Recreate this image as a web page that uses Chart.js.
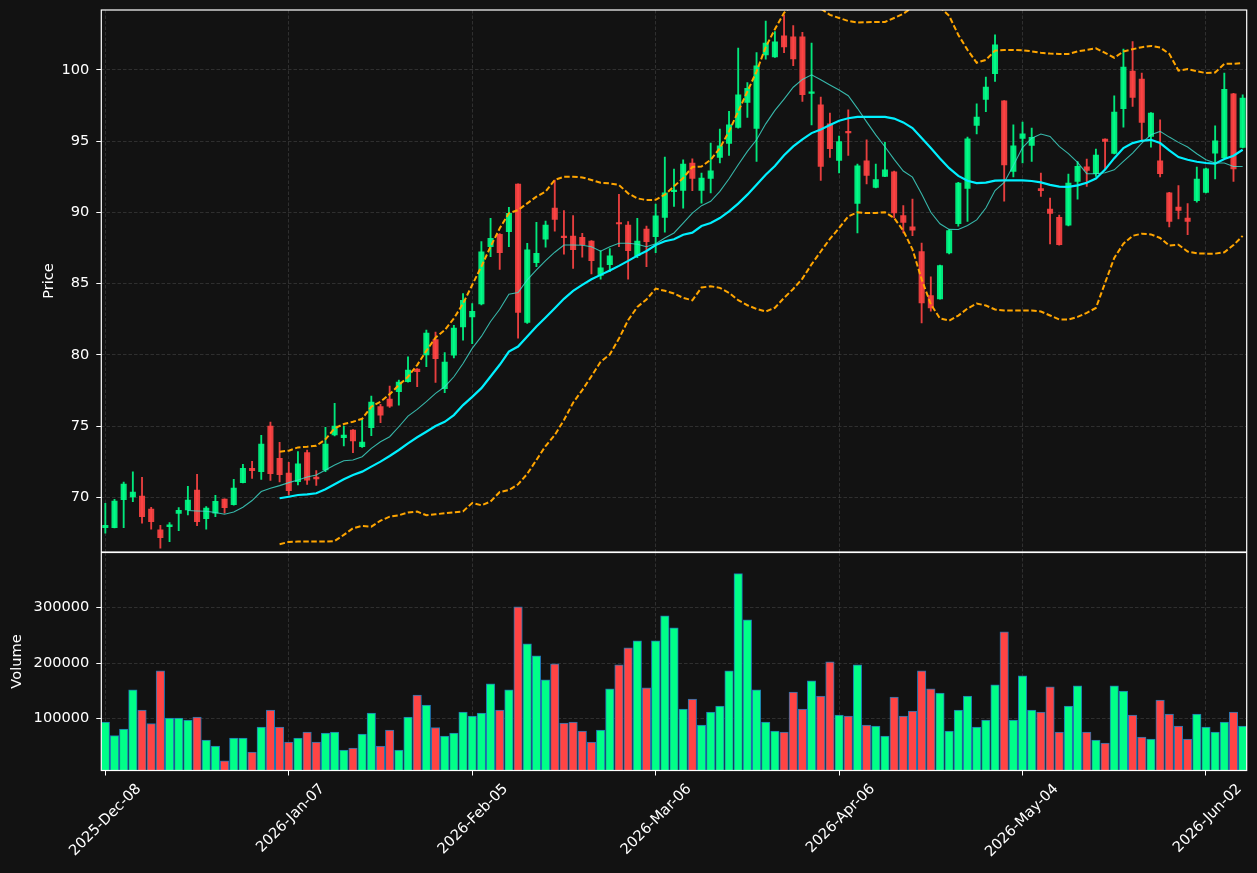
<!DOCTYPE html>
<html><head><meta charset="utf-8">
<script src="https://cdn.jsdelivr.net/npm/chart.js@4.4.1/dist/chart.umd.min.js"></script>
<style>
html,body{margin:0;padding:0;background:#121212;}
#wrap{position:relative;width:1257px;height:873px;background:#121212;overflow:hidden;}
#c1{position:absolute;left:0;top:0;}
#c2{position:absolute;left:0;top:552px;}
</style></head>
<body><div id="wrap"><canvas id="c1" width="1257" height="552"></canvas><canvas id="c2" width="1257" height="321"></canvas></div>
<script>
const dates = ['2025-Dec-08','2025-Dec-09','2025-Dec-10','2025-Dec-11','2025-Dec-12','2025-Dec-15','2025-Dec-16','2025-Dec-17','2025-Dec-18','2025-Dec-19','2025-Dec-22','2025-Dec-23','2025-Dec-24','2025-Dec-26','2025-Dec-29','2025-Dec-30','2025-Dec-31',
'2026-Jan-02','2026-Jan-05','2026-Jan-06','2026-Jan-07','2026-Jan-08','2026-Jan-09','2026-Jan-12','2026-Jan-13','2026-Jan-14','2026-Jan-15','2026-Jan-16','2026-Jan-20','2026-Jan-21','2026-Jan-22','2026-Jan-23','2026-Jan-26','2026-Jan-27','2026-Jan-28','2026-Jan-29','2026-Jan-30',
'2026-Feb-02','2026-Feb-03','2026-Feb-04','2026-Feb-05','2026-Feb-06','2026-Feb-09','2026-Feb-10','2026-Feb-11','2026-Feb-12','2026-Feb-13','2026-Feb-17','2026-Feb-18','2026-Feb-19','2026-Feb-20','2026-Feb-23','2026-Feb-24','2026-Feb-25','2026-Feb-26','2026-Feb-27',
'2026-Mar-02','2026-Mar-03','2026-Mar-04','2026-Mar-05','2026-Mar-06','2026-Mar-09','2026-Mar-10','2026-Mar-11','2026-Mar-12','2026-Mar-13','2026-Mar-16','2026-Mar-17','2026-Mar-18','2026-Mar-19','2026-Mar-20','2026-Mar-23','2026-Mar-24','2026-Mar-25','2026-Mar-26','2026-Mar-27','2026-Mar-30','2026-Mar-31',
'2026-Apr-01','2026-Apr-02','2026-Apr-06','2026-Apr-07','2026-Apr-08','2026-Apr-09','2026-Apr-10','2026-Apr-13','2026-Apr-14','2026-Apr-15','2026-Apr-16','2026-Apr-17','2026-Apr-20','2026-Apr-21','2026-Apr-22','2026-Apr-23','2026-Apr-24','2026-Apr-27','2026-Apr-28','2026-Apr-29','2026-Apr-30',
'2026-May-01','2026-May-04','2026-May-05','2026-May-06','2026-May-07','2026-May-08','2026-May-11','2026-May-12','2026-May-13','2026-May-14','2026-May-15','2026-May-18','2026-May-19','2026-May-20','2026-May-21','2026-May-22','2026-May-26','2026-May-27','2026-May-28','2026-May-29',
'2026-Jun-01','2026-Jun-02','2026-Jun-03','2026-Jun-04','2026-Jun-05','2026-Jun-08'];

const openP = [67.87,67.87,69.84,70.02,70.09,69.18,67.71,67.94,68.86,69.11,70.51,68.50,68.88,69.88,69.49,71.03,72.03,71.80,75.00,72.73,
71.70,71.10,73.13,71.42,71.92,74.37,74.18,74.72,73.55,74.88,76.36,76.89,77.41,78.11,79.00,80.00,81.07,77.62,79.98,81.96,
82.66,83.57,87.59,88.46,88.64,91.99,82.27,86.47,88.11,90.30,88.34,88.34,88.25,87.99,85.58,86.33,89.28,89.11,86.96,88.83,
88.30,89.65,91.45,91.54,93.46,91.54,92.38,93.86,94.84,95.96,97.71,95.89,101.05,100.91,102.38,102.31,102.31,98.34,97.55,96.21,
93.64,95.65,90.63,93.62,91.75,92.52,92.85,89.77,88.99,87.24,84.16,83.93,87.15,89.21,91.68,96.10,97.92,99.74,97.83,92.87,
95.19,94.70,91.66,90.23,89.65,89.09,92.17,93.20,92.71,95.14,94.14,97.27,99.91,99.35,95.33,93.62,91.36,90.37,89.60,90.82,
91.40,94.16,93.81,98.32,94.56];
const highP = [69.58,69.86,71.07,71.78,71.40,69.30,68.04,68.22,69.28,70.77,71.61,69.35,70.14,69.90,71.26,72.31,72.52,74.35,75.28,73.86,
72.45,73.20,73.32,71.87,74.91,76.59,75.00,74.75,75.54,77.10,76.52,77.80,78.22,79.86,79.04,81.73,81.59,80.16,82.06,84.30,
83.60,87.94,89.58,88.50,90.35,92.00,87.83,89.30,89.39,92.27,90.12,89.77,88.53,88.02,87.29,87.45,91.26,89.35,89.58,89.04,
90.57,93.88,93.04,93.69,93.76,92.76,94.86,95.84,97.08,101.52,99.11,101.21,103.43,102.69,103.86,103.11,102.64,101.87,98.08,96.96,
95.35,97.20,93.39,95.09,93.39,94.91,92.90,90.47,90.93,87.85,85.47,86.30,88.79,92.10,95.28,97.62,99.49,102.45,97.85,96.14,
96.33,95.91,92.76,91.00,89.81,92.69,93.57,93.74,94.44,95.16,98.18,101.45,101.99,99.77,97.00,96.50,91.40,91.87,90.61,93.18,
93.11,96.07,99.77,98.35,98.25];
const lowP = [67.48,67.85,67.87,69.70,68.18,67.76,66.43,66.89,67.66,68.76,68.01,67.76,68.64,68.88,69.45,71.00,71.33,71.26,71.19,71.07,
70.16,70.86,70.91,70.84,71.80,74.30,73.60,73.13,73.50,74.32,75.23,76.31,76.47,78.08,77.76,79.16,78.06,77.34,79.79,81.03,
80.79,83.50,86.89,86.00,87.59,81.17,82.20,86.19,87.55,88.67,87.06,86.07,86.85,85.68,85.30,85.84,87.59,85.30,86.82,86.19,
87.16,88.60,90.42,90.30,91.52,90.65,91.36,93.46,94.00,95.90,96.66,93.57,100.75,100.88,101.21,100.30,97.78,96.14,92.24,93.86,
92.76,94.00,88.55,91.99,91.72,92.50,89.60,88.55,88.36,82.24,83.06,83.90,87.08,89.02,89.37,95.51,97.06,99.18,90.79,92.48,
93.46,93.57,91.12,87.78,87.70,89.05,90.93,91.82,92.52,92.99,94.10,95.98,97.43,94.98,94.58,92.48,88.97,89.53,88.43,90.72,
91.36,92.34,93.78,92.17,94.52];
const closeP = [68.04,69.74,70.93,70.37,68.64,68.29,67.17,68.06,69.09,69.81,68.29,69.25,69.72,69.28,70.65,72.03,71.87,73.74,71.66,71.59,
70.47,72.34,71.21,71.29,73.74,75.00,74.37,73.95,73.88,76.68,75.77,76.40,78.08,78.93,78.81,81.52,79.72,79.49,81.87,83.83,
83.06,87.22,88.18,87.17,89.93,82.97,87.36,87.13,89.11,89.51,88.22,87.38,87.73,86.61,86.10,86.94,89.18,87.31,87.99,87.94,
89.76,91.36,91.54,93.39,92.38,92.41,92.92,94.67,96.14,98.25,98.71,100.28,101.87,101.96,101.61,100.77,98.25,98.46,93.22,94.46,
94.97,95.58,93.27,92.59,92.29,92.99,89.95,89.30,88.74,83.64,83.29,86.26,88.71,92.06,95.16,96.68,98.79,101.75,93.32,94.67,
95.51,95.26,91.52,89.93,87.73,92.06,93.22,92.94,94.02,94.98,97.03,100.19,98.06,96.31,96.96,92.71,89.37,90.14,89.37,92.34,
93.06,95.02,98.64,93.04,98.01];

const volume = [94000,69400,81400,151700,115600,91000,185900,101200,101200,97600,103000,61600,50800,24300,65200,65200,39900,85000,115600,85000,
58000,65200,76000,58000,74200,76000,43500,47100,72400,110200,50800,79600,43500,103000,142600,124600,83800,68800,74200,112000,
104800,110200,162500,115600,151700,301200,234500,212900,169700,198500,92200,94000,77800,58000,79600,153500,196700,227300,239900,155300,
239900,285000,263400,117400,135400,88600,112000,122800,185900,360700,277800,151700,94000,77800,76000,148000,117400,167900,140800,202100,
106600,104800,196700,88600,86800,68800,139000,104800,113800,185900,153500,146200,77800,115600,140800,85000,97600,160700,256200,97600,
176900,115600,112000,157100,76000,122800,158900,76000,61600,56200,158900,149800,106600,67000,63400,133600,108400,86800,63400,108400,
85000,76000,94000,112000,86800];

const sma10 = [null,null,null,null,null,null,null,null,null,69.07,69.04,69.02,68.93,68.81,68.97,69.30,69.77,70.40,70.63,70.82,
71.03,71.21,71.43,71.57,71.92,72.27,72.57,72.62,72.85,73.43,73.90,74.25,74.95,75.70,76.17,76.71,77.29,77.76,78.46,79.39,
80.45,81.29,82.34,83.20,84.25,84.37,85.26,85.96,86.61,87.20,87.71,87.71,87.69,87.59,87.27,87.59,87.83,87.83,87.76,87.59,
87.80,88.20,88.55,89.25,89.95,90.47,90.77,91.47,92.36,93.34,94.28,95.09,96.21,97.15,97.95,98.78,99.33,99.65,99.30,98.94,
98.58,98.18,97.30,96.35,95.44,94.60,93.72,92.90,92.47,91.28,90.00,89.20,88.80,88.79,89.07,89.47,90.30,91.53,92.10,93.28,
94.55,95.20,95.50,95.33,94.63,94.12,93.50,92.71,92.71,92.78,92.98,93.57,94.16,94.86,95.44,95.68,95.28,94.91,94.58,94.11,
93.69,93.46,93.46,93.22,93.22];
const sma20 = [null,null,null,null,null,null,null,null,null,null,null,null,null,null,null,null,null,null,null,69.93,
70.04,70.16,70.21,70.28,70.56,70.91,71.26,71.57,71.80,72.15,72.50,72.90,73.32,73.79,74.21,74.60,75.00,75.30,75.77,76.47,
77.05,77.66,78.48,79.30,80.23,80.58,81.29,81.99,82.62,83.27,83.93,84.49,84.91,85.30,85.61,85.91,86.24,86.59,86.96,87.29,
87.70,87.97,88.11,88.43,88.57,89.04,89.25,89.60,90.07,90.61,91.24,91.94,92.64,93.25,94.00,94.63,95.12,95.56,95.82,96.13,
96.43,96.60,96.70,96.70,96.70,96.70,96.58,96.31,95.91,95.22,94.51,93.78,93.10,92.56,92.21,92.05,92.08,92.22,92.24,92.24,
92.24,92.20,92.10,91.93,91.80,91.79,91.89,92.08,92.37,93.00,93.80,94.51,94.86,95.02,95.09,94.86,94.35,93.88,93.69,93.55,
93.46,93.41,93.74,93.97,94.39];
const bbUpper = [null,null,null,null,null,null,null,null,null,null,null,null,null,null,null,null,null,null,null,73.20,
73.27,73.50,73.55,73.62,74.07,74.84,75.14,75.30,75.51,76.36,76.71,77.24,77.87,78.46,79.28,80.28,81.21,81.73,82.55,83.60,
84.90,86.20,87.59,88.88,89.93,90.16,90.63,91.10,91.45,92.27,92.50,92.50,92.45,92.27,92.08,92.03,91.92,91.33,90.98,90.86,
90.88,91.24,91.82,92.41,93.18,93.22,93.69,94.51,95.68,97.08,98.48,99.88,101.60,102.85,104.00,104.60,104.90,104.80,104.30,103.86,
103.64,103.43,103.32,103.34,103.36,103.36,103.64,103.93,104.40,104.80,104.80,104.40,103.79,102.45,101.40,100.50,100.70,101.35,101.39,101.40,
101.38,101.30,101.20,101.14,101.12,101.12,101.29,101.40,101.51,101.19,100.85,101.29,101.45,101.59,101.68,101.57,101.12,99.95,100.05,99.91,
99.77,99.81,100.42,100.42,100.47];
const bbLower = [null,null,null,null,null,null,null,null,null,null,null,null,null,null,null,null,null,null,null,66.70,
66.87,66.89,66.89,66.89,66.89,66.93,67.36,67.83,67.99,67.94,68.36,68.64,68.74,68.93,69.00,68.74,68.81,68.88,68.95,69.01,
69.60,69.44,69.70,70.37,70.51,70.91,71.64,72.62,73.60,74.37,75.42,76.64,77.52,78.50,79.51,80.02,81.14,82.43,83.36,83.88,
84.65,84.49,84.30,84.00,83.83,84.72,84.81,84.70,84.35,83.83,83.48,83.22,83.04,83.30,84.00,84.62,85.35,86.35,87.25,88.13,
88.90,89.72,90.00,89.95,89.95,90.01,89.60,88.71,87.40,85.30,83.55,82.55,82.40,82.75,83.25,83.60,83.46,83.18,83.11,83.11,
83.11,83.11,83.04,82.76,82.48,82.48,82.66,82.94,83.29,85.05,86.80,87.80,88.35,88.50,88.45,88.20,87.66,87.73,87.25,87.12,
87.10,87.10,87.20,87.70,88.35];

const priceTicks = [70,75,80,85,90,95,100];
const volumeTicks = [100000,200000,300000];
const dateTickIdx = [0,20,40,60,80,100,120];

const FONT = {family:'DejaVu Sans', size:14.6};
const GRID = 'rgba(255,255,255,0.16)';
const UP = 'rgba(0,255,136,0.9)', DOWN = 'rgba(255,68,68,0.9)';
const VUP = '#00ff88', VDOWN = '#ff4444';
const isUp = closeP.map((c,i) => c >= openP[i]);
const idx = dates.map((_, i) => i);

const framePlugin = {
  id: 'frame',
  afterDraw(chart) {
    const a = chart.chartArea, ctx = chart.ctx;
    ctx.save();
    ctx.strokeStyle = '#ffffff';
    ctx.lineWidth = 1.2;
    ctx.strokeRect(a.left, a.top, a.right - a.left, a.bottom - a.top);
    ctx.restore();
  }
};

function zeroPad(s) { s.paddingTop = 0; s.paddingBottom = 0; s.paddingLeft = 0; s.paddingRight = 0; }

function xScale(showLabels) {
  return {
    type: 'linear', min: -0.44, max: 124.44, offset: false,
    afterBuildTicks: s => { s.ticks = dateTickIdx.map(v => ({value: v})); },
    afterFit: s => { s.height = showLabels ? 102.5 : 0; zeroPad(s); },
    grid: {offset: false, color: GRID, lineWidth: 0.8, drawTicks: showLabels, tickLength: 5, tickColor: '#ffffff', tickWidth: 1, tickBorderDash: []},
    border: {display: false, dash: [3.5, 2]},
    ticks: {display: showLabels, autoSkip: false, maxRotation: 45, minRotation: 45, labelOffset: 33.5, padding: 5,
      color: '#ffffff', font: FONT, callback: v => dates[v] ?? ''}
  };
}
function yScale(min, max, tickVals, title, titlePad) {
  return {
    type: 'linear', min: min, max: max,
    afterBuildTicks: s => { s.ticks = tickVals.map(v => ({value: v})); },
    afterFit: s => { s.width = 101.3; zeroPad(s); },
    grid: {color: GRID, lineWidth: 0.8, drawTicks: true, tickLength: 5, tickColor: '#ffffff', tickWidth: 1, tickBorderDash: []},
    border: {display: false, dash: [3.5, 2]},
    ticks: {color: '#ffffff', padding: 7, font: FONT, callback: v => String(v)},
    title: {display: true, text: title, color: '#ffffff', font: FONT, padding: {top: titlePad, bottom: 0}}
  };
}
const common = {
  responsive: false, animation: false, events: [],
  plugins: {legend: {display: false}, tooltip: {enabled: false}}
};
function lineDs(label, arr, color, width, dash) {
  return {type: 'line', label: label, data: idx.map(i => ({x: i, y: arr[i]})),
    borderColor: color, borderWidth: width, borderDash: dash || [], pointRadius: 0, tension: 0, order: 0, spanGaps: false};
}

new Chart(document.getElementById('c1'), {
  type: 'bar',
  data: {datasets: [
    lineDs('SMA 10', sma10, 'rgba(64,224,208,0.8)', 1.1),
    lineDs('SMA 20', sma20, '#00f0ff', 2.2),
    lineDs('BB upper', bbUpper, '#ffa500', 2, [5.5, 2.5]),
    lineDs('BB lower', bbLower, '#ffa500', 2, [5.5, 2.5]),
    {type: 'bar', label: 'wick', data: idx.map(i => ({x: i, y: [lowP[i], highP[i]]})),
      backgroundColor: idx.map(i => isUp[i] ? UP : DOWN), barThickness: 1.2, grouped: false, order: 2},
    {type: 'bar', label: 'body', data: idx.map(i => ({x: i, y: [openP[i], closeP[i]]})),
      backgroundColor: idx.map(i => isUp[i] ? UP : DOWN), barThickness: 5.4, minBarLength: 1.5, grouped: false, order: 1}
  ]},
  options: Object.assign({}, common, {
    layout: {padding: {top: 10, right: 10.3, bottom: 0, left: 0}},
    scales: {x: xScale(false), y: yScale(66.16, 104.2, priceTicks, 'Price', 40)}
  }),
  plugins: [framePlugin]
});

new Chart(document.getElementById('c2'), {
  type: 'bar',
  data: {datasets: [
    {type: 'bar', label: 'Volume', data: idx.map(i => ({x: i, y: volume[i]})),
      backgroundColor: idx.map(i => isUp[i] ? VUP : VDOWN), borderColor: '#1f77b4', borderWidth: 1,
      barThickness: 8.5, grouped: false}
  ]},
  options: Object.assign({}, common, {
    layout: {padding: {top: 0.5, right: 10.3, bottom: 0, left: 0}},
    scales: {x: xScale(true), y: yScale(6850, 398700, volumeTicks, 'Volume', 8.3)}
  }),
  plugins: [framePlugin]
});
</script>
</body></html>
